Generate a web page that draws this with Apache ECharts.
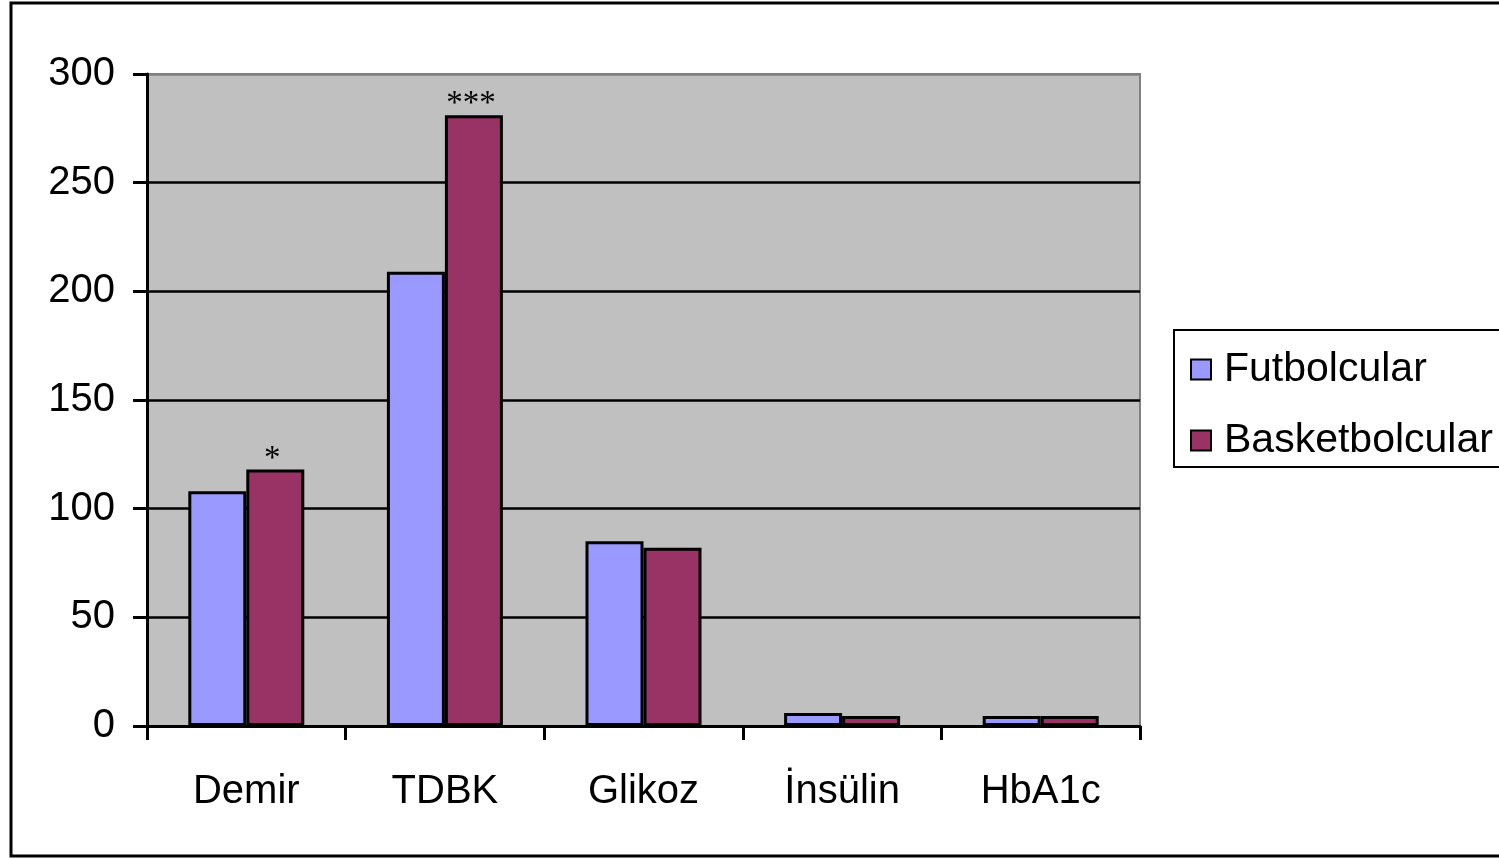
<!DOCTYPE html>
<html>
<head>
<meta charset="utf-8">
<script src="https://cdn.jsdelivr.net/npm/echarts@6/dist/echarts.min.js"></script>
<style>
  html, body { margin: 0; padding: 0; background: #fff; }
  #chart { width: 1499px; height: 859px; }
</style>
</head>
<body>
<div id="chart"></div>
<script>
// Blood parameters compared between football and basketball players
const categories = ['Demir', 'TDBK', 'Glikoz', 'İnsülin', 'HbA1c'];
const futbolcular = [108, 209, 85, 6, 4.6];
const basketbolcular = [118, 281, 82, 4.6, 4.6];
// significance markers shown above the basketball bars
const significance = ['*', '***', '', '', ''];
const yTicks = { min: 0, max: 300, interval: 50 };

const font = '"Liberation Sans", Arial, sans-serif';

const chart = echarts.init(document.getElementById('chart'));
chart.setOption({
  animation: false,
  backgroundColor: '#ffffff',
  graphic: [
    { type: 'rect', z: -10, shape: { x: 11, y: 3, width: 1600, height: 853 },
      style: { fill: 'none', stroke: '#000', lineWidth: 3 } },
    { type: 'rect', z: -10, shape: { x: 1174, y: 330, width: 400, height: 137 },
      style: { fill: '#fff', stroke: '#000', lineWidth: 2 } }
  ],
  grid: {
    left: 147, top: 74, right: 359, bottom: 133,
    show: true, backgroundColor: '#C0C0C0', borderColor: '#808080', borderWidth: 2
  },
  legend: {
    orient: 'vertical',
    left: 1185, top: 344,
    itemWidth: 20, itemHeight: 20, itemGap: 30,
    icon: 'rect',
    textStyle: { fontFamily: font, fontSize: 41, color: '#000', padding: [0, 0, 0, 8] },
    data: ['Futbolcular', 'Basketbolcular']
  },
  xAxis: {
    type: 'category',
    data: categories,
    axisLine: { lineStyle: { color: '#000', width: 3 } },
    axisTick: { show: true, length: 14, alignWithLabel: false, lineStyle: { color: '#000', width: 3 } },
    axisLabel: { fontFamily: font, fontSize: 40, color: '#000', margin: 46 }
  },
  yAxis: {
    type: 'value',
    min: yTicks.min, max: yTicks.max, interval: yTicks.interval,
    axisLine: { show: true, lineStyle: { color: '#000', width: 3 } },
    axisTick: { show: true, length: 14, lineStyle: { color: '#000', width: 3 } },
    axisLabel: { fontFamily: font, fontSize: 40, color: '#000', margin: 32, padding: [4, 0, 0, 0] },
    splitLine: { show: true, lineStyle: { color: ['#000', '#000', '#000', '#000', '#000', '#000', '#808080'], width: 2.5 } }
  },
  series: [
    {
      name: 'Futbolcular', type: 'bar', data: futbolcular,
      barWidth: 58, barGap: '0%',
      itemStyle: { color: '#9999FF', borderColor: '#000', borderWidth: 3 }
    },
    {
      name: 'Basketbolcular', type: 'bar', data: basketbolcular,
      barWidth: 58, barGap: '0%',
      itemStyle: { color: '#993366', borderColor: '#000', borderWidth: 3 },
      label: {
        show: true, position: 'top', distance: 0, offset: [-3, 6],
        fontFamily: '"Liberation Serif", "Times New Roman", serif', fontSize: 33, color: '#000',
        formatter: p => significance[p.dataIndex]
      }
    }
  ]
});
</script>
</body>
</html>
